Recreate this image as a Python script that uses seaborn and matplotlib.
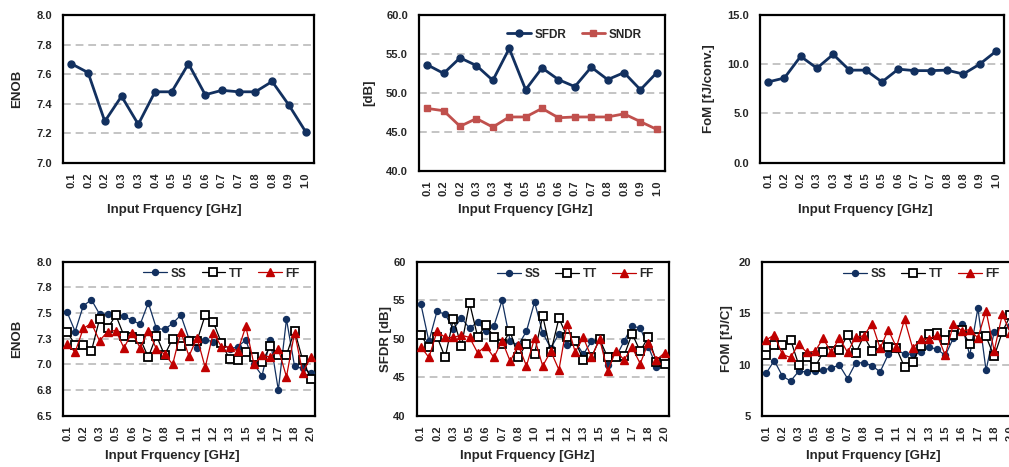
import numpy as np
import pandas as pd
import matplotlib
matplotlib.use("Agg")
import matplotlib.pyplot as plt
import seaborn as sns

# ---------------- data ----------------
# top row: 15 input-frequency categories
top_freq_labels = ['0.1', '0.2', '0.2', '0.3', '0.3', '0.4', '0.5', '0.5',
                   '0.6', '0.7', '0.7', '0.8', '0.8', '0.9', '1.0']
enob_top = [7.67, 7.61, 7.28, 7.45, 7.26, 7.48, 7.48, 7.67, 7.46, 7.49, 7.48, 7.48, 7.55, 7.39, 7.21]
sfdr_top = [53.6, 52.5, 54.5, 53.5, 51.6, 55.7, 50.4, 53.2, 51.7, 50.8, 53.3, 51.7, 52.6, 50.4, 52.6]
sndr_top = [48.0, 47.7, 45.7, 46.7, 45.6, 46.9, 46.9, 48.0, 46.8, 46.9, 46.9, 46.9, 47.3, 46.3, 45.3]
fom_top = [8.2, 8.6, 10.8, 9.6, 11.0, 9.4, 9.4, 8.2, 9.5, 9.35, 9.35, 9.4, 9.0, 10.0, 11.3]

# bottom row: 31 input-frequency categories, labelled every other one
bottom_freq_labels = ['0.1', '0.2', '0.3', '0.5', '0.6', '0.7', '0.8', '1.0',
                      '1.1', '1.2', '1.3', '1.5', '1.6', '1.7', '1.8', '2.0']
corners = ['SS', 'TT', 'FF']
enob_ss = [7.51, 7.32, 7.57, 7.63, 7.49, 7.49, 7.49, 7.47, 7.43, 7.39, 7.60, 7.35, 7.34, 7.40, 7.48,
           7.25, 7.16, 7.24, 7.22, 7.21, 7.15, 7.17, 7.24, 7.00, 6.89, 7.24, 6.75, 7.44, 6.98, 6.96, 6.92]
enob_tt = [7.32, 7.19, 7.19, 7.13, 7.44, 7.35, 7.48, 7.28, 7.27, 7.25, 7.07, 7.28, 7.09, 7.25, 7.18,
           7.23, 7.23, 7.48, 7.41, 7.21, 7.05, 7.04, 7.12, 7.07, 7.02, 7.18, 7.09, 7.09, 7.33, 7.04, 6.86]
enob_ff = [7.20, 7.12, 7.35, 7.40, 7.23, 7.32, 7.33, 7.16, 7.31, 7.16, 7.33, 7.15, 7.10, 7.00, 7.32,
           7.08, 7.26, 6.97, 7.31, 7.17, 7.17, 7.13, 7.37, 7.00, 7.09, 7.07, 7.15, 6.88, 7.31, 6.92, 7.07]
sfdr_ss = [54.6, 49.7, 53.6, 53.2, 51.3, 52.7, 51.4, 52.2, 51.0, 51.7, 55.0, 49.7, 49.2, 51.0, 54.8,
           50.8, 48.8, 50.7, 49.2, 49.7, 48.0, 49.7, 50.0, 46.6, 47.6, 49.7, 51.7, 51.4, 49.0, 46.4, 46.9]
sfdr_tt = [50.5, 48.9, 50.3, 47.6, 52.6, 49.1, 54.7, 50.3, 51.8, 50.3, 49.3, 51.0, 47.6, 49.4, 48.1,
           53.0, 48.3, 52.7, 50.3, 49.7, 47.3, 47.6, 50.0, 47.6, 47.6, 47.8, 50.7, 48.4, 50.3, 47.0, 46.8]
sfdr_ff = [49.0, 47.6, 51.0, 50.2, 50.2, 50.5, 50.2, 48.2, 49.1, 47.6, 49.8, 47.1, 49.2, 46.5, 50.1,
           46.5, 48.4, 46.0, 52.0, 48.3, 50.2, 47.6, 50.0, 45.8, 48.5, 47.3, 48.9, 46.8, 49.5, 47.3, 48.2]
fom_ss = [9.15, 10.4, 8.9, 8.4, 9.35, 9.3, 9.35, 9.45, 9.7, 9.95, 8.65, 10.15, 10.2, 9.9, 9.3,
          11.0, 11.5, 11.0, 11.05, 11.2, 11.7, 11.5, 10.9, 12.6, 14.0, 10.9, 15.5, 9.45, 13.2, 13.3, 13.8]
fom_tt = [10.9, 11.9, 11.9, 12.45, 10.0, 10.7, 9.75, 11.2, 11.3, 11.4, 12.9, 11.1, 12.8, 11.35, 11.9,
          11.7, 11.6, 9.75, 10.3, 11.8, 13.0, 13.1, 12.4, 12.9, 13.4, 12.0, 12.7, 12.75, 10.8, 13.2, 14.8]
fom_ff = [12.4, 12.9, 11.0, 10.7, 12.0, 11.2, 11.3, 12.55, 11.2, 12.6, 11.2, 12.7, 12.8, 14.0, 11.6,
          13.4, 11.7, 14.4, 11.6, 12.5, 12.5, 12.9, 10.9, 14.0, 13.3, 13.4, 12.6, 15.25, 11.35, 14.9, 13.1]

# ---------------- style ----------------
sns.set_theme(style="white")
plt.rcParams['font.family'] = ['Liberation Sans', 'DejaVu Sans']
plt.rcParams['font.weight'] = 'bold'
plt.rcParams['axes.labelweight'] = 'bold'

NAVY = '#12305f'
RED_TOP = '#c0504d'
RED = '#c00000'
BLACK = '#000000'
GRID = '#c4c4c4'
TICK_FS = 8
LABEL_FS = 9.5
LEG_FS = 8.5

fig = plt.figure(figsize=(10.09, 4.67), dpi=100)


def make_ax(rect):
    ax = fig.add_axes(rect)
    for s in ax.spines.values():
        s.set_color('black')
        s.set_linewidth(1.6)
    ax.tick_params(axis='both', length=0, labelsize=TICK_FS)
    ax.tick_params(axis='y', pad=8)
    ax.tick_params(axis='x', pad=7)
    return ax


def series(ax, values, color, marker, ms, lw, label=None, mfc=None, mew=1.0):
    df = pd.DataFrame({'idx': np.arange(len(values)), 'val': values})
    sns.lineplot(data=df, x='idx', y='val', ax=ax, color=color, marker=marker,
                 markersize=ms, linewidth=lw, label=label,
                 markerfacecolor=mfc if mfc is not None else color,
                 markeredgecolor=color, markeredgewidth=mew, zorder=3)


def finish(ax, n, xlabels, step, ylim, yticks, ylabels, gridvals, ylabel,
           ylab_x, xlab_x, xlab_y):
    ax.set_xlim(-0.5, n - 0.5)
    ax.set_xticks(np.arange(0, n, step))
    ax.set_xticklabels(xlabels, rotation=90, fontsize=TICK_FS, fontweight='bold')
    ax.set_ylim(*ylim)
    ax.set_yticks(yticks)
    ax.set_yticklabels(ylabels, fontsize=TICK_FS, fontweight='bold')
    for g in gridvals:
        ax.axhline(g, color=GRID, lw=1.4, ls=(0, (4, 2.5)), zorder=1)
    ax.set_ylabel(ylabel, fontsize=LABEL_FS, fontweight='bold')
    ax.set_xlabel('Input Frquency [GHz]', fontsize=LABEL_FS, fontweight='bold')
    ax.yaxis.set_label_coords(ylab_x, 0.5)
    ax.xaxis.set_label_coords(xlab_x, xlab_y)


def legend(ax, anchor, ncol):
    ax.legend(loc='upper right', bbox_to_anchor=anchor, ncol=ncol, frameon=False,
              handlelength=2.0, handletextpad=0.3,
              columnspacing=1.3, borderpad=0, borderaxespad=0,
              prop={'weight': 'bold', 'size': LEG_FS})


# ---------------- top row ----------------
nt = len(top_freq_labels)
ax1 = make_ax([0.0624, 0.6516, 0.2488, 0.3163])
series(ax1, enob_top, NAVY, 'o', 5, 2.0)
if ax1.get_legend():
    ax1.get_legend().remove()
finish(ax1, nt, top_freq_labels, 1, (7.0, 8.0), [7.0, 7.2, 7.4, 7.6, 7.8, 8.0],
       ['7.0', '7.2', '7.4', '7.6', '7.8', '8.0'], [7.2, 7.4, 7.6, 7.8], 'ENOB',
       -0.16, 0.442, -0.28)

ax2 = make_ax([0.4153, 0.6345, 0.2438, 0.3334])
series(ax2, sfdr_top, NAVY, 'o', 5, 2.0, label='SFDR')
series(ax2, sndr_top, RED_TOP, 's', 5, 2.0, label='SNDR')
finish(ax2, nt, top_freq_labels, 1, (40, 60), [40, 45, 50, 55, 60],
       ['40.0', '45.0', '50.0', '55.0', '60.0'], [45, 50, 55], '[dB]',
       -0.179, 0.431, -0.214)
legend(ax2, (0.906, 0.913), 2)

ax3 = make_ax([0.7532, 0.6516, 0.2418, 0.3163])
series(ax3, fom_top, NAVY, 'o', 5, 2.0)
if ax3.get_legend():
    ax3.get_legend().remove()
finish(ax3, nt, top_freq_labels, 1, (0, 15), [0, 5, 10, 15],
       ['0.0', '5.0', '10.0', '15.0'], [5, 10], 'FoM [fJ/conv.]',
       -0.184, 0.43, -0.28)

# ---------------- bottom row ----------------
nb = len(enob_ss)


def corner_set(ax, ss, tt, ff):
    series(ax, ss, NAVY, 'o', 4.3, 0.9, label=corners[0])
    series(ax, tt, BLACK, 's', 5.2, 0.9, label=corners[1], mfc='white', mew=1.3)
    series(ax, ff, RED, '^', 5.2, 0.9, label=corners[2])


ax4 = make_ax([0.0624, 0.1098, 0.2497, 0.3298])
corner_set(ax4, enob_ss, enob_tt, enob_ff)
finish(ax4, nb, bottom_freq_labels, 2, (6.5, 8.0),
       [6.5, 6.75, 7.0, 7.25, 7.5, 7.75, 8.0],
       ['6.5', '6.8', '7.0', '7.3', '7.5', '7.8', '8.0'],
       [6.75, 7.0, 7.25, 7.5, 7.75], 'ENOB', -0.16, 0.433, -0.22)
legend(ax4, (0.94, 0.962), 3)

ax5 = make_ax([0.4130, 0.1092, 0.2497, 0.3298])
corner_set(ax5, sfdr_ss, sfdr_tt, sfdr_ff)
finish(ax5, nb, bottom_freq_labels, 2, (40, 60), [40, 45, 50, 55, 60],
       ['40', '45', '50', '55', '60'], [45, 50, 55], 'SFDR [dB]',
       -0.098, 0.438, -0.22)
legend(ax5, (0.94, 0.962), 3)

ax6 = make_ax([0.7552, 0.1092, 0.2503, 0.3298])
corner_set(ax6, fom_ss, fom_tt, fom_ff)
finish(ax6, nb, bottom_freq_labels, 2, (5, 20), [5, 10, 15, 20],
       ['5', '10', '15', '20'], [10, 15], 'FOM [fJ/C]',
       -0.115, 0.44, -0.22)
legend(ax6, (0.94, 0.962), 3)

fig.savefig('out.png', dpi=100)
